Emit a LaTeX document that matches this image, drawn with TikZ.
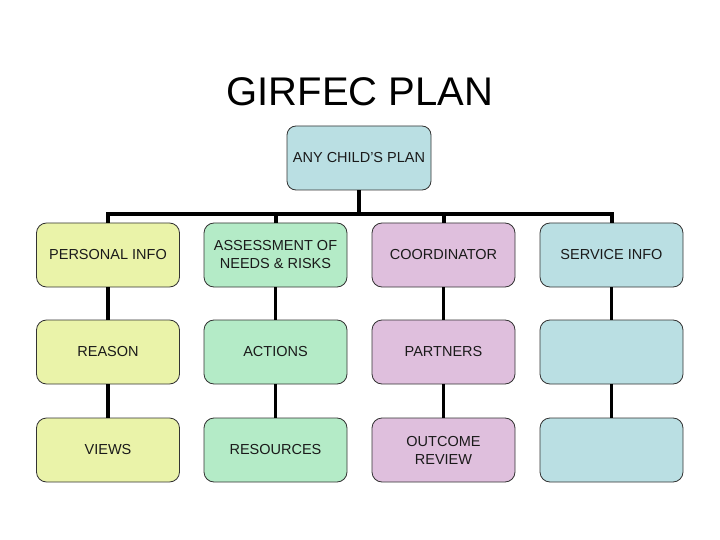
\documentclass[tikz,border=0pt]{standalone}
\usepackage{fontspec}
\setmainfont{Liberation Sans}
\definecolor{cyel}{HTML}{EAF3A9}
\definecolor{cgrn}{HTML}{B4EBC7}
\definecolor{cpnk}{HTML}{DFBFDD}
\definecolor{cblu}{HTML}{BADFE3}
\definecolor{cedge}{HTML}{333333}
\definecolor{ctext}{HTML}{1A1A1A}
\tikzset{
  box/.style={draw=cedge, line width=0.8pt, rounded corners=10pt, minimum width=143pt, minimum height=64pt,
    inner sep=2pt, align=center, text=ctext, font=\fontsize{14.5}{18}\selectfont},
  conn/.style={line width=4pt, black, line join=miter},
  vconn/.style={line width=3.3pt, black}
}
\begin{document}
\begin{tikzpicture}[x=1pt,y=-1pt]
\useasboundingbox (0,0) rectangle (720,540);
\node (title) at (360,92) {\fontsize{40}{44}\selectfont GIRFEC PLAN};
\node[box, fill=cblu, minimum width=144pt, rounded corners=9pt] (top) at (359,158) {ANY CHILD'S PLAN};
% column 1
\node[box, fill=cyel] (p1) at (108,255) {PERSONAL INFO};
\node[box, fill=cyel] (p2) at (108,352) {REASON};
\node[box, fill=cyel] (p3) at (108,450) {VIEWS};
% column 2
\node[box, fill=cgrn] (a1) at (275.5,255) {ASSESSMENT OF\\NEEDS \& RISKS};
\node[box, fill=cgrn] (a2) at (275.5,352) {ACTIONS};
\node[box, fill=cgrn] (a3) at (275.5,450) {RESOURCES};
% column 3
\node[box, fill=cpnk] (c1) at (443.5,255) {COORDINATOR};
\node[box, fill=cpnk] (c2) at (443.5,352) {PARTNERS};
\node[box, fill=cpnk] (c3) at (443.5,450) {OUTCOME\\REVIEW};
% column 4
\node[box, fill=cblu] (s1) at (611.5,255) {SERVICE INFO};
\node[box, fill=cblu] (s2) at (611.5,352) {};
\node[box, fill=cblu] (s3) at (611.5,450) {};
% connectors
\coordinate (bus) at (359,214);
\draw[conn] (p1.north) |- (bus) -| (s1.north);
\draw[conn] (top.south) -- (bus);
\draw[conn] (a1.north) -- (a1.north |- bus);
\draw[conn] (c1.north) -- (c1.north |- bus);
\foreach \c in {p,a,c,s}{
  \draw[vconn] (\c1.south) -- (\c2.north);
  \draw[vconn] (\c2.south) -- (\c3.north);
}
\end{tikzpicture}
\end{document}
